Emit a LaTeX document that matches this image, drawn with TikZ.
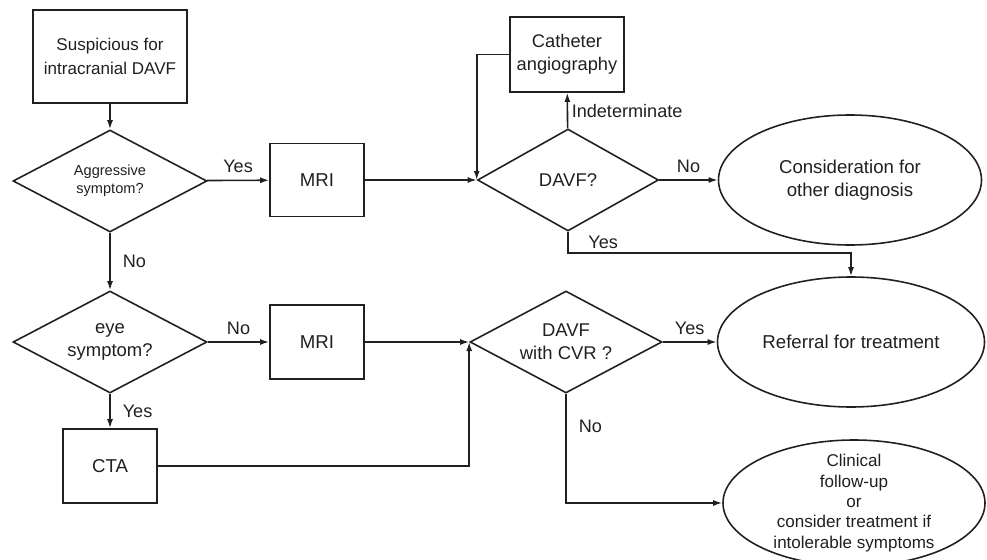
\documentclass[tikz,border=0pt]{standalone}
\usepackage{fontspec}
\setmainfont{Liberation Sans}
\usetikzlibrary{arrows.meta, positioning, shapes.geometric, calc}
\definecolor{CInk}{HTML}{231F20}

\tikzset{
    box/.style={draw=CInk, line width=0.9pt, rectangle, align=center, inner sep=0pt, text=CInk},
    decision/.style={draw=CInk, line width=0.9pt, diamond, align=center, inner sep=0pt, aspect=1.9, text=CInk},
    term/.style={draw=CInk, line width=0.9pt, ellipse, align=center, inner sep=0pt, text=CInk},
    link/.style={draw=CInk, line width=0.9pt, -{Latex[length=1.8mm, width=1.2mm]}},
    lbl/.style={font=\fontsize{10.3}{12}\selectfont, text=CInk, inner sep=4pt}
}

\begin{document}
\begin{tikzpicture}
    \useasboundingbox (0,0) rectangle (19.74,-11.2);

    % --- LEFT COLUMN ---
    \node[box, minimum width=3.08cm, minimum height=1.86cm, font=\fontsize{9.7}{13.6}\selectfont] (susp) at (2.2,-1.13) {Suspicious for\\intracranial DAVF};
    \node[decision, minimum width=3.88cm, minimum height=2.04cm, font=\fontsize{8.3}{10.5}\selectfont] (aggr) at (2.2,-3.62) {Aggressive\\symptom?};
    \node[decision, minimum width=3.88cm, minimum height=2.04cm, font=\fontsize{10.5}{13}\selectfont] (eye) at (2.2,-6.84) {eye\\symptom?};
    \node[box, minimum width=1.88cm, minimum height=1.48cm, font=\fontsize{10.6}{13}\selectfont] (cta) at (2.2,-9.32) {CTA};

    % --- IMAGING ---
    \node[box, minimum width=1.88cm, minimum height=1.46cm, font=\fontsize{10.6}{13}\selectfont] (mri1) at (6.34,-3.6) {MRI};
    \node[box, minimum width=1.88cm, minimum height=1.48cm, font=\fontsize{10.6}{13}\selectfont] (mri2) at (6.34,-6.84) {MRI};
    \node[box, minimum width=2.28cm, minimum height=1.5cm, font=\fontsize{10.4}{13}\selectfont] (cath) at (11.34,-1.09) {Catheter\\angiography};

    % --- DECISIONS ---
    \node[decision, minimum width=3.62cm, minimum height=2.04cm, font=\fontsize{10.5}{13}\selectfont] (davf) at (11.36,-3.6) {DAVF?};
    \node[decision, minimum width=3.84cm, minimum height=2.04cm, font=\fontsize{10.5}{13}\selectfont] (cvr) at (11.32,-6.84) {DAVF\\with CVR ?};

    % --- OUTCOMES ---
    \node[term, minimum width=5.26cm, minimum height=2.6cm, font=\fontsize{10.6}{13.4}\selectfont] (other) at (17.0,-3.6) {Consideration for\\other diagnosis};
    \node[term, minimum width=5.34cm, minimum height=2.6cm, font=\fontsize{10.6}{13}\selectfont] (refer) at (17.02,-6.84) {Referral for treatment};
    \node[term, minimum width=5.24cm, minimum height=2.52cm] (follow) at (17.08,-10.06) {};
    \node[align=center, text=CInk, inner sep=0pt, font=\fontsize{9.7}{11.6}\selectfont] (followtxt) at (follow) {Clinical\\follow-up\\or\\consider treatment if\\intolerable symptoms};

    % --- CONNECTORS ---
    \draw[link] (susp) -- (aggr);
    \draw[link] (aggr) -- node[lbl, above] {Yes} (mri1);
    \draw[link] (aggr) -- node[lbl, right, xshift=0.1cm] {No} (eye);
    \draw[link] (mri1) -- (davf);
    \draw[link] (davf) -- node[lbl, right, inner sep=2pt] {Indeterminate} (cath);
    \draw[link] (cath.west) -| (davf.west);
    \draw[link] (davf) -- node[lbl, above] {No} (other);
    \draw[link] (davf.south) -- node[lbl, right, xshift=0.25cm] {Yes} ++(0,-0.42) -| (refer.north);

    \draw[link] (eye) -- node[lbl, above] {No} (mri2);
    \draw[link] (eye) -- node[lbl, right, xshift=0.1cm] {Yes} (cta);
    \draw[link] (mri2) -- (cvr);
    \draw[link] (cta.east) -| (cvr.west);
    \draw[link] (cvr) -- node[lbl, above] {Yes} (refer);
    \draw[link] (cvr.south) |- node[lbl, right, pos=0.15, xshift=0.1cm] {No} (follow.west);
\end{tikzpicture}
\end{document}
